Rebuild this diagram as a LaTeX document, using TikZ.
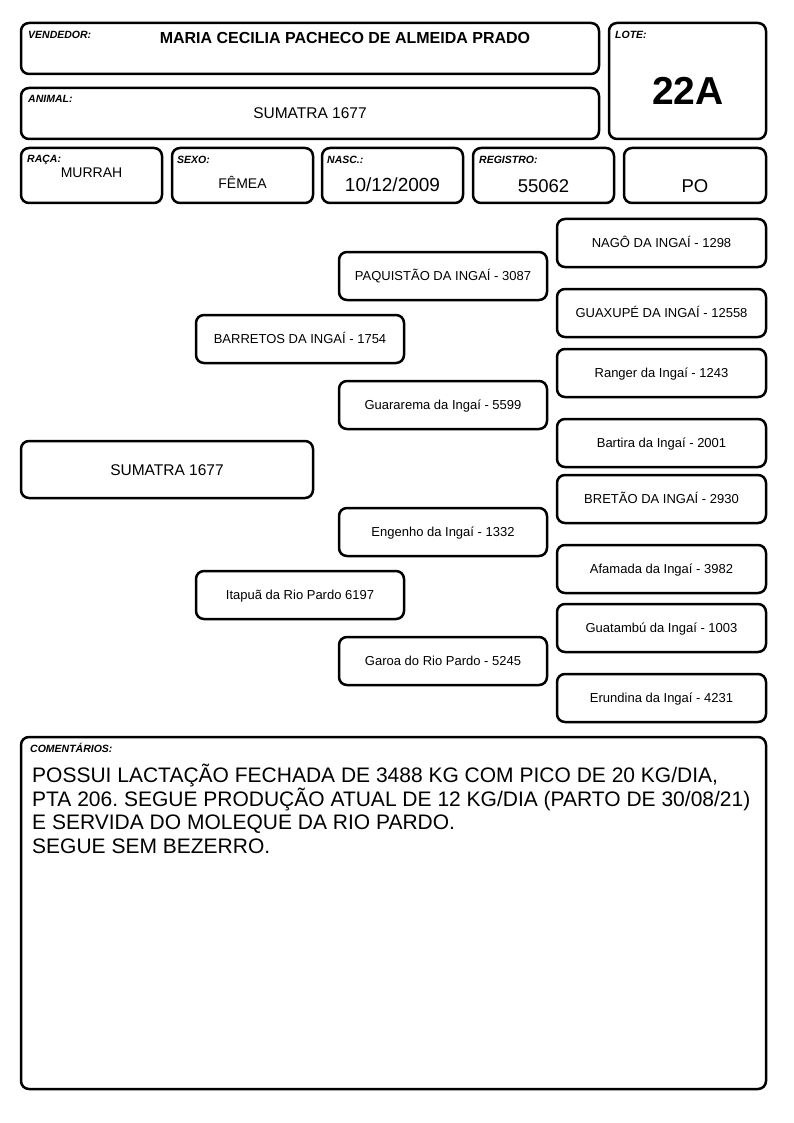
\documentclass[tikz,border=0pt]{standalone}
\usepackage{fontspec}
\setmainfont{Liberation Sans}
\usepackage{tikz}
\frenchspacing
\newcommand{\fsz}[2]{\fontsize{#1}{#2}\selectfont}
\newcommand{\widthinfo}{141pt}
\newcommand{\heightinfo}{55pt}
\newcommand{\widthped}{208pt}
\newcommand{\heightped}{48pt}
\tikzset{
    card/.style={draw, line width=2.5pt, rounded corners=8pt, inner sep=0pt, outer sep=0pt, anchor=north west},
    infobox/.style={card, minimum width=\widthinfo, minimum height=\heightinfo},
    pedigree/.style={card, minimum width=\widthped, minimum height=\heightped, font=\fsz{13}{15}, text height=9.3pt, text depth=0pt},
    fieldname/.style={anchor=base west, inner sep=0pt, font=\fsz{10.5}{12}\bfseries\itshape},
    fieldvalue/.style={anchor=base, inner sep=0pt}
}

\begin{document}
\begin{tikzpicture}[x=1pt, y=-1pt]
    \useasboundingbox (0,0) rectangle (794,1123);

    % header
    \node[card, minimum width=578pt, minimum height=51pt] (vendedor) at (21,23) {};
    \node[card, minimum width=157pt, minimum height=116pt] (lote) at (609,23) {};
    \node[card, minimum width=578pt, minimum height=51pt] (animal) at (21,88) {};

    \node[fieldname] (vendedor-label) at ([shift={(7,16)}]vendedor.north west) {VENDEDOR:};
    \node[fieldvalue, font=\fsz{16}{18}\bfseries] (vendedor-name) at (345,43.7) {MARIA CECILIA PACHECO DE ALMEIDA PRADO};
    \node[fieldname] (lote-label) at ([shift={(6,16)}]lote.north west) {LOTE:};
    \node[fieldvalue, font=\fsz{39}{44}\bfseries] (lote-value) at (688,105) {22A};
    \node[fieldname] (animal-label) at ([shift={(7,15)}]animal.north west) {ANIMAL:};
    \node[fieldvalue, font=\fsz{15.5}{18}] (animal-name) at (310,118.5) {SUMATRA 1677};

    % info row
    \node[infobox] (raca) at (21,148) {};
    \node[infobox] (sexo) at (172,148) {};
    \node[infobox] (nasc) at (322,148) {};
    \node[infobox] (registro) at (473,148) {};
    \node[infobox, minimum width=142pt] (categoria) at (624,148) {};

    \node[fieldname] (raca-label) at ([shift={(6,15)}]raca.north west) {RAÇA:};
    \node[fieldname] (sexo-label) at ([shift={(5,16)}]sexo.north west) {SEXO:};
    \node[fieldname] (nasc-label) at ([shift={(5,16)}]nasc.north west) {NASC.:};
    \node[fieldname] (registro-label) at ([shift={(6,16)}]registro.north west) {REGISTRO:};

    \node[fieldvalue, font=\fsz{14}{16}] (raca-value) at ([shift={(0,30)}]raca.north) {MURRAH};
    \node[fieldvalue, font=\fsz{14}{16}] (sexo-value) at ([shift={(0,41)}]sexo.north) {FÊMEA};
    \node[fieldvalue, font=\fsz{19}{22}] (nasc-value) at ([shift={(0,44)}]nasc.north) {10/12/2009};
    \node[fieldvalue, font=\fsz{18.5}{22}] (registro-value) at ([shift={(0,44.5)}]registro.north) {55062};
    \node[fieldvalue, font=\fsz{18.5}{22}] (categoria-value) at ([shift={(0,44.5)}]categoria.north) {PO};

    % pedigree
    \node[pedigree, minimum width=292pt, minimum height=57pt, font=\fsz{15.5}{18}, text height=11.1pt] (sumatra) at (21,441) {SUMATRA 1677};

    \node[pedigree] (barretos) at (196,315) {BARRETOS DA INGAÍ - 1754};
    \node[pedigree] (itapua) at (196,571) {Itapuã da Rio Pardo 6197};

    \node[pedigree] (paquistao) at (339,252) {PAQUISTÃO DA INGAÍ - 3087};
    \node[pedigree] (guararema) at (339,381) {Guararema da Ingaí - 5599};
    \node[pedigree] (engenho) at (339,508) {Engenho da Ingaí - 1332};
    \node[pedigree] (garoa) at (339,637) {Garoa do Rio Pardo - 5245};

    \node[pedigree, minimum width=209pt] (nago) at (557,219) {NAGÔ DA INGAÍ - 1298};
    \node[pedigree, minimum width=209pt] (guaxupe) at (557,289) {GUAXUPÉ DA INGAÍ - 12558};
    \node[pedigree, minimum width=209pt] (ranger) at (557,349) {Ranger da Ingaí - 1243};
    \node[pedigree, minimum width=209pt] (bartira) at (557,419) {Bartira da Ingaí - 2001};
    \node[pedigree, minimum width=209pt] (bretao) at (557,475) {BRETÃO DA INGAÍ - 2930};
    \node[pedigree, minimum width=209pt] (afamada) at (557,545) {Afamada da Ingaí - 3982};
    \node[pedigree, minimum width=209pt] (guatambu) at (557,604) {Guatambú da Ingaí - 1003};
    \node[pedigree, minimum width=209pt] (erundina) at (557,674) {Erundina da Ingaí - 4231};

    % comments
    \node[card, minimum width=745pt, minimum height=352pt] (comentarios) at (21,737) {};
    \node[fieldname] (comentarios-label) at ([shift={(9,15)}]comentarios.north west) {COMENTÁRIOS:};
    \node[anchor=north west, inner sep=0pt, align=left, font=\fsz{21}{23.6}] (comentarios-text) at (32,764)
        {POSSUI LACTAÇÃO FECHADA DE 3488 KG COM PICO DE 20 KG/DIA,\\
         PTA 206. SEGUE PRODUÇÃO ATUAL DE 12 KG/DIA (PARTO DE 30/08/21)\\
         E SERVIDA DO MOLEQUE DA RIO PARDO.\\
         SEGUE SEM BEZERRO.};
\end{tikzpicture}
\end{document}
